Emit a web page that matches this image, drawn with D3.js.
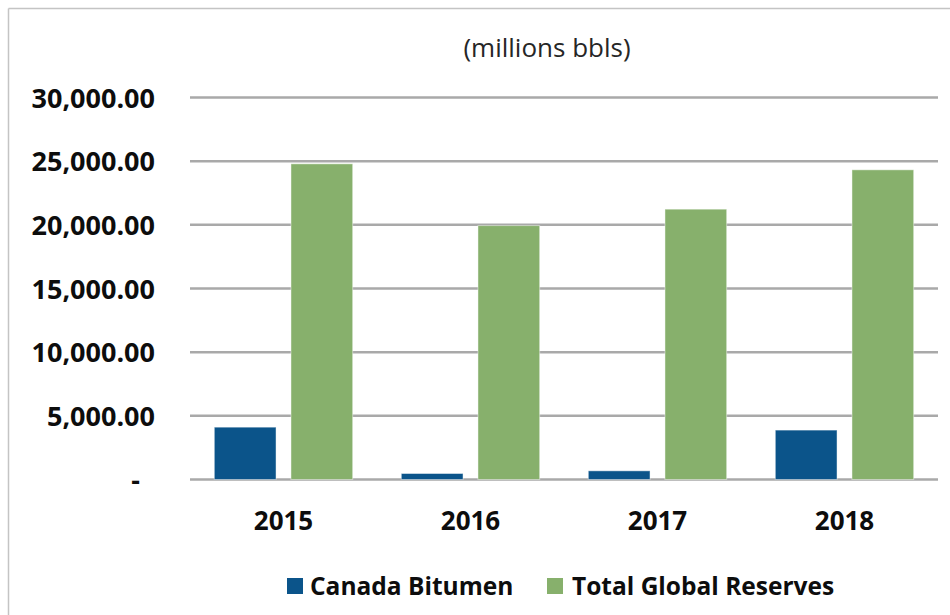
<!DOCTYPE html>
<html>
<head>
<meta charset="utf-8">
<script src="https://cdn.jsdelivr.net/npm/d3@7"></script>
<style>
  html, body { margin: 0; padding: 0; background: #ffffff; }
  svg { display: block; }
</style>
</head>
<body>
<svg id="chart" width="950" height="615"></svg>
<script>
// ---- data ----
const years = ["2015", "2016", "2017", "2018"];
const seriesNames = ["Canada Bitumen", "Total Global Reserves"];
const canadaBitumen = [4110, 470, 680, 3880];
const totalGlobalReserves = [24790, 19940, 21230, 24320];
const yTickValues = [0, 5000, 10000, 15000, 20000, 25000, 30000];
const yTickLabels = ["-", "5,000.00", "10,000.00", "15,000.00", "20,000.00", "25,000.00", "30,000.00"];
const seriesColors = ["#0b548a", "#87b06c"];
const unitLabel = "(millions bbls)";

// ---- layout ----
const W = 950, H = 615;
const plot = { left: 190, right: 938, top: 97.5, bottom: 479.5 };
const svg = d3.select("#chart");

svg.append("rect").attr("width", W).attr("height", H).attr("fill", "#ffffff");

// outer frame (top + left visible)
svg.append("line").attr("x1", 8.5).attr("x2", W).attr("y1", 8.5).attr("y2", 8.5)
  .attr("stroke", "#c4c4c4").attr("stroke-width", 1.5);
svg.append("line").attr("x1", 8.5).attr("x2", 8.5).attr("y1", 8.5).attr("y2", H)
  .attr("stroke", "#c4c4c4").attr("stroke-width", 1.5);

const y = d3.scaleLinear().domain([0, 30000]).range([plot.bottom, plot.top]);
const x0 = d3.scaleBand().domain(years).range([plot.left, plot.right]).paddingInner(0).paddingOuter(0);
const x1 = d3.scaleBand().domain(seriesNames)
  .range([x0.bandwidth() * 0.13, x0.bandwidth() * 0.87]).paddingInner(0.195).paddingOuter(0);

// gridlines
const grid = svg.append("g");
grid.selectAll("line").data(yTickValues).join("line")
  .attr("x1", plot.left).attr("x2", plot.right)
  .attr("y1", d => y(d)).attr("y2", d => y(d))
  .attr("stroke", "#a9a9a9").attr("stroke-width", 2.5);

// y axis labels via d3 axis
const yAxis = d3.axisLeft(y).tickValues(yTickValues)
  .tickFormat((d, i) => yTickLabels[i]).tickSize(0).tickPadding(0);
const yg = svg.append("g").attr("transform", `translate(155,0)`).call(yAxis);
yg.select(".domain").remove();
yg.selectAll("text")
  .attr("font-family", "'Open Sans', sans-serif")
  .attr("font-weight", 700).attr("font-size", 27).attr("fill", "#0d0d0d")
  .attr("dy", "0.36em")
  .attr("x", d => d === 0 ? -15 : 0);

// bars
const data = years.map((yr, i) => ({ year: yr, values: [canadaBitumen[i], totalGlobalReserves[i]] }));
const groups = svg.append("g").selectAll("g").data(data).join("g")
  .attr("transform", d => `translate(${x0(d.year)},0)`);
groups.selectAll("rect").data(d => d.values.map((v, j) => ({ name: seriesNames[j], v, j })))
  .join("rect")
  .attr("x", d => x1(d.name))
  .attr("width", x1.bandwidth())
  .attr("y", d => y(d.v))
  .attr("height", d => y(0) - y(d.v))
  .attr("fill", d => seriesColors[d.j])
  .attr("stroke", "rgba(255,255,255,0.45)").attr("stroke-width", 1);

// x axis labels
const xAxis = d3.axisBottom(x0).tickSize(0).tickPadding(0);
const xg = svg.append("g").attr("transform", `translate(0,530)`).call(xAxis);
xg.select(".domain").remove();
xg.selectAll("text")
  .attr("font-family", "'Open Sans', sans-serif")
  .attr("font-weight", 700).attr("font-size", 26).attr("fill", "#0d0d0d")
  .attr("dy", 0);

// unit label
svg.append("text").attr("x", 547).attr("y", 57).attr("text-anchor", "middle")
  .attr("font-family", "'Open Sans', sans-serif").attr("font-size", 26).attr("fill", "#262626")
  .text(unitLabel);

// legend
const legendX = [287, 547];
const lg = svg.append("g").selectAll("g").data(seriesNames).join("g")
  .attr("transform", (d, i) => `translate(${legendX[i]},0)`);
lg.append("rect").attr("x", 0).attr("y", 578).attr("width", 16).attr("height", 16)
  .attr("fill", (d, i) => seriesColors[i]);
lg.append("text").attr("x", (d, i) => i === 0 ? 23 : 25).attr("y", 595)
  .attr("font-family", "'Open Sans', sans-serif").attr("font-weight", 700)
  .attr("font-size", 24.5).attr("fill", "#0d0d0d")
  .text(d => d);
</script>
</body>
</html>
